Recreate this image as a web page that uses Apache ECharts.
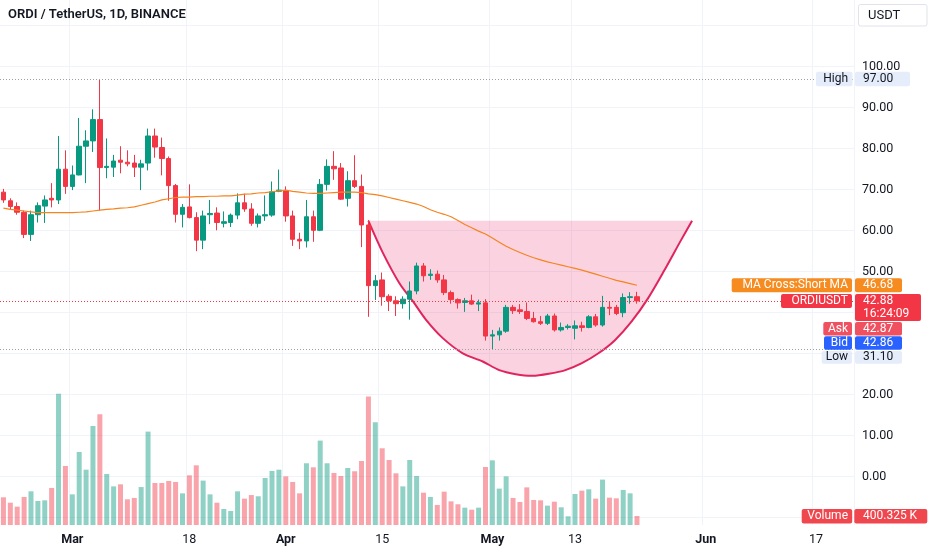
<!DOCTYPE html>
<html>
<head>
<meta charset="utf-8">
<script src="https://cdn.jsdelivr.net/npm/echarts@6/dist/echarts.min.js"></script>
<style>
  html, body { margin: 0; padding: 0; background: #fff; }
  #main { width: 932px; height: 550px; }
</style>
</head>
<body>
<div id="main"></div>
<script>
// ORDI / USDT daily, 2024-02-20 .. 2024-05-22
const startDate = '2024-02-20';
const dayCount = 124;

const tickLabels = {
  '2024-03-01': 'Mar', '2024-03-18': '18', '2024-04-01': 'Apr', '2024-04-15': '15',
  '2024-05-01': 'May', '2024-05-13': '13', '2024-06-01': 'Jun', '2024-06-17': '17'
};
const monthTicks = ['Mar', 'Apr', 'May', 'Jun'];

const opens = [
  69.4, 67.3, 65.9, 64.5, 59.1, 63.9, 66.0, 67.9, 67.5, 75.0,
  70.8, 73.6, 80.6, 81.9, 87.1, 75.4, 75.5, 77.2, 76.7, 76.5,
  75.5, 76.5, 83.1, 80.3, 77.6, 71.0, 64.0, 65.8, 63.2, 57.7,
  63.9, 64.3, 61.8, 62.0, 63.8, 66.8, 65.3, 61.8, 63.6, 63.8,
  69.6, 69.8, 63.6, 57.9, 57.5, 63.4, 60.1, 71.3, 75.7, 75.3,
  67.9, 72.2, 70.8, 61.4, 46.6, 48.0, 44.0, 42.9, 42.2, 43.3,
  45.3, 51.4, 49.1, 49.4, 48.0, 44.9, 43.2, 42.5, 42.9, 42.1,
  42.4, 34.3, 34.6, 35.5, 41.3, 40.7, 40.3, 38.6, 37.8, 37.4,
  39.2, 35.8, 36.4, 36.2, 36.8, 36.4, 39.0, 37.0, 41.3, 41.3,
  40.0, 43.7, 43.9
];
const closes = [
  67.5, 65.9, 64.5, 59.1, 63.9, 66.1, 67.5, 67.5, 75.0, 70.8,
  73.6, 80.6, 81.9, 87.1, 75.4, 75.7, 77.0, 76.7, 76.3, 75.5,
  76.3, 83.1, 80.4, 77.6, 71.0, 64.0, 65.7, 63.2, 57.7, 63.6,
  64.2, 62.0, 62.2, 63.8, 66.8, 65.3, 61.8, 63.6, 63.9, 69.5,
  69.9, 63.6, 57.9, 57.5, 63.4, 60.1, 71.3, 75.7, 75.1, 67.7,
  72.2, 70.8, 61.4, 46.6, 47.8, 43.9, 42.9, 42.2, 43.3, 45.3,
  51.4, 49.0, 49.4, 48.0, 44.9, 43.2, 42.4, 42.9, 42.1, 42.4,
  34.3, 34.6, 35.5, 41.3, 40.5, 40.3, 38.6, 37.8, 37.4, 39.2,
  35.8, 36.4, 36.7, 36.8, 36.4, 39.0, 37.0, 41.3, 41.1, 39.8,
  43.7, 43.9, 42.88
];
const lows = [
  66.8, 65.1, 63.9, 58.2, 57.5, 62.0, 61.9, 65.7, 66.5, 69.0,
  69.9, 73.5, 71.6, 79.2, 64.9, 72.8, 73.1, 74.0, 75.7, 73.1,
  69.9, 74.7, 77.8, 73.5, 67.3, 62.0, 60.8, 63.0, 55.0, 55.5,
  61.6, 60.1, 60.8, 60.9, 62.8, 64.6, 61.2, 60.8, 62.4, 63.4,
  69.4, 62.2, 56.3, 55.5, 55.9, 57.3, 59.9, 69.8, 72.4, 67.5,
  65.9, 70.4, 56.0, 39.0, 43.1, 41.7, 40.4, 39.2, 41.0, 38.3,
  44.5, 47.6, 48.0, 47.3, 44.3, 42.2, 41.0, 40.2, 41.9, 40.4,
  33.2, 31.1, 33.2, 35.1, 39.7, 39.7, 38.2, 37.6, 37.0, 37.0,
  35.4, 35.4, 35.9, 33.5, 35.4, 36.2, 36.6, 36.6, 39.4, 39.4,
  38.9, 42.2, 42.2
];
const highs = [
  70.2, 67.9, 66.9, 64.9, 64.9, 66.9, 68.6, 71.6, 83.1, 79.6,
  75.9, 87.5, 84.5, 89.6, 97.0, 82.5, 78.5, 80.6, 79.6, 78.5,
  77.3, 84.9, 84.9, 82.7, 78.1, 71.4, 66.5, 71.3, 64.5, 64.9,
  67.5, 65.7, 64.7, 64.2, 69.1, 69.0, 66.7, 64.2, 68.6, 72.0,
  74.9, 70.8, 64.9, 59.5, 67.5, 64.9, 72.6, 77.4, 79.4, 76.5,
  74.5, 78.4, 73.7, 62.6, 49.2, 49.8, 44.5, 44.0, 44.0, 47.6,
  52.2, 52.1, 50.6, 50.3, 49.2, 45.4, 43.5, 43.6, 44.4, 43.2,
  43.3, 35.8, 36.4, 41.9, 41.9, 42.1, 42.5, 40.2, 39.2, 39.7,
  39.8, 37.6, 37.2, 38.1, 37.8, 39.4, 39.7, 44.1, 42.7, 41.9,
  44.7, 45.0, 45.1
];
// volume, thousands
const volumes = [
  1230, 990, 815, 1245, 1495, 1065, 1095, 1645, 5820, 2620,
  1360, 3240, 2455, 4395, 4915, 2265, 1715, 1805, 1140, 1200,
  1685, 4145, 1865, 1865, 1955, 1910, 1405, 2205, 2650, 1970,
  1360, 990, 710, 620, 1495, 1170, 1330, 1275, 2085, 2400,
  2455, 2160, 1910, 1405, 2740, 2560, 3745, 2740, 2310, 2175,
  2530, 2385, 2840, 5700, 4560, 3405, 2885, 2295, 1715, 2885,
  2175, 1435, 1245, 890, 1480, 1050, 920, 770, 680, 770,
  2575, 2870, 1615, 2160, 1200, 1020, 1670, 1110, 1095, 860,
  1035, 785, 385, 1375, 1525, 1585, 1170, 2015, 1215, 1185,
  1555, 1405, 400
];
// MA Cross: Short MA
const shortMA = [
  65.5, 65.2, 65.0, 64.8, 64.6, 64.4, 64.4, 64.4, 64.4, 64.4,
  64.4, 64.5, 64.6, 64.8, 65.0, 65.2, 65.3, 65.5, 65.6, 65.8,
  66.2, 66.6, 67.0, 67.5, 67.8, 68.1, 68.2, 68.2, 68.3, 68.3,
  68.4, 68.4, 68.5, 68.5, 68.7, 68.9, 69.0, 69.2, 69.3, 69.5,
  69.7, 69.9, 69.6, 69.4, 69.2, 69.1, 69.1, 69.2, 69.3, 69.4,
  69.4, 69.4, 69.3, 69.0, 68.8, 68.5, 68.1, 67.7, 67.3, 66.9,
  66.5, 65.9, 65.1, 64.5, 64.0, 63.4, 62.5, 61.5, 60.7, 59.9,
  59.2, 58.2, 57.2, 56.2, 55.4, 54.7, 54.0, 53.4, 52.9, 52.4,
  52.0, 51.6, 51.2, 50.8, 50.4, 49.9, 49.4, 48.9, 48.4, 47.9,
  47.5, 47.1, 46.7
];
// cup drawing: bar position / price
const cupX = [53.0, 55.1, 57.5, 59.5, 61.4, 63.8, 66.7, 69.6, 72.0, 74.4, 76.8,
              79.2, 81.6, 84.0, 86.4, 88.8, 91.2, 93.6, 96.0, 98.4, 100.0];
const cupY = [62.4, 54.6, 47.2, 42.7, 38.2, 33.8, 30.1, 28.1, 26.0, 25.0, 24.6,
              25.1, 26.0, 27.7, 30.1, 33.3, 37.8, 43.5, 50.4, 57.7, 62.4];

const priceHigh = 97.00, priceLow = 31.10, lastPrice = 42.88;
const maLast = 46.68, askPrice = 42.87, bidPrice = 42.86;

const UP = '#089981', DOWN = '#f23645';
const FONT = 'Roboto, "Noto Sans", sans-serif';

const dates = [];
{
  const t0 = Date.parse(startDate + 'T00:00:00Z');
  for (let i = 0; i < dayCount; i++) {
    dates.push(new Date(t0 + i * 86400000).toISOString().slice(0, 10));
  }
}

const candles = opens.map((o, i) => [o, closes[i], lows[i], highs[i]]);
const volBars = volumes.map((v, i) => ({
  value: v,
  itemStyle: { color: closes[i] >= opens[i] ? 'rgba(8,153,129,0.45)' : 'rgba(242,54,69,0.45)' }
}));
const isTick = (idx, val) => tickLabels[val] !== undefined;

const chart = echarts.init(document.getElementById('main'));

const option = {
  animation: false,
  backgroundColor: '#ffffff',
  title: {
    text: 'ORDI / TetherUS, 1D, BINANCE',
    left: 8, top: 8, padding: 0,
    textStyle: { fontSize: 13, fontWeight: 600, color: '#131722', fontFamily: FONT }
  },
  grid: [
    { left: -5.47, right: 78.1, top: 25.7, bottom: 32.3 },
    { left: -5.47, right: 78.1, top: 0, bottom: 25 }
  ],
  xAxis: [
    { type: 'category', gridIndex: 0, data: dates, show: false, boundaryGap: true },
    {
      type: 'category', gridIndex: 1, data: dates, boundaryGap: true,
      axisLine: { show: false }, axisTick: { show: false },
      axisLabel: {
        interval: isTick, margin: 8, color: '#131722', fontSize: 12.5, fontFamily: FONT,
        formatter: v => {
          const s = tickLabels[v] || '';
          return monthTicks.indexOf(s) >= 0 ? '{b|' + s + '}' : s;
        },
        rich: { b: { fontWeight: 'bold', fontSize: 12.5, fontFamily: FONT, color: '#131722' } }
      },
      splitLine: { show: true, interval: isTick, lineStyle: { color: '#f0f3fa', width: 1 } }
    },
    { type: 'value', gridIndex: 0, min: -0.5, max: dayCount - 0.5, show: false }
  ],
  yAxis: [
    {
      type: 'value', gridIndex: 0, position: 'right', min: -10, max: 110, interval: 10,
      axisLine: { show: false }, axisTick: { show: false },
      axisLabel: {
        margin: 8, color: '#131722', fontSize: 12.5, fontFamily: FONT,
        formatter: v => (v < 0 || v > 100 || v === 40 || v === 30) ? '' : v.toFixed(2)
      },
      splitLine: { lineStyle: { color: '#f0f3fa', width: 1 } }
    },
    { type: 'value', gridIndex: 1, min: 0, max: 23300, show: false, splitLine: { show: false } }
  ],
  series: [
    {
      name: 'Volume', type: 'bar', xAxisIndex: 1, yAxisIndex: 1,
      data: volBars, barWidth: 5, z: 1
    },
    {
      name: 'Cup', type: 'custom', xAxisIndex: 2, yAxisIndex: 0, z: 2, silent: true,
      data: [0],
      renderItem: (params, api) => {
        const pts = cupX.map((x, i) => api.coord([x, cupY[i]]));
        return {
          type: 'group',
          children: [
            { type: 'polygon', shape: { points: pts }, style: { fill: 'rgba(233,30,99,0.2)' } },
            { type: 'polyline', shape: { points: pts.slice(), smooth: 0.3 },
              style: { stroke: '#e0245e', lineWidth: 2, fill: null } }
          ]
        };
      }
    },
    {
      name: 'ORDIUSDT', type: 'candlestick', xAxisIndex: 0, yAxisIndex: 0,
      data: candles, barWidth: 5, z: 3,
      itemStyle: { color: UP, color0: DOWN, borderColor: UP, borderColor0: DOWN, borderWidth: 1 },
      markLine: {
        silent: true, symbol: ['none', 'none'], label: { show: false },
        lineStyle: { color: '#f23645', type: [1, 2], width: 1 },
        data: [{ yAxis: lastPrice }]
      }
    },
    {
      name: 'Short MA', type: 'line', xAxisIndex: 0, yAxisIndex: 0,
      data: shortMA, symbol: 'none', z: 4,
      lineStyle: { color: '#f5841f', width: 1.2 },
      markLine: {
        silent: true, symbol: ['none', 'none'], label: { show: false },
        lineStyle: { color: '#9da0a8', type: [1, 2], width: 1 },
        data: [{ yAxis: priceHigh }, { yAxis: priceLow }]
      }
    }
  ]
};

chart.setOption(option);

// price scale tags
const py = v => chart.convertToPixel({ yAxisIndex: 0 }, v);
const tags = [];
function box(x, top, w, h, bg, stroke) {
  tags.push({ type: 'rect', z: 100, shape: { x: x, y: top, width: w, height: h, r: 2 },
    style: { fill: bg, stroke: stroke || null, lineWidth: 1 } });
}
function txt(x, y, s, color, align, size) {
  tags.push({ type: 'text', z: 101, x: x, y: y,
    style: { text: s, fill: color, font: (size || 12) + 'px ' + FONT,
      textAlign: align || 'left', textVerticalAlign: 'middle' } });
}
function pair(labelX, top, h, bg, label, value, color) {
  box(labelX, top, 852 - labelX, h, bg);
  txt(848, top + h / 2, label, color, 'right');
  box(855, top, 47, h, bg);
  txt(863, top + h / 2, value, color);
}

const yH = py(priceHigh);
box(816, yH - 7.2, 36.5, 14.5, '#e4edf9');
txt(848, yH, 'High', '#131722', 'right');
box(855, yH - 7.2, 55, 14.5, '#e4edf9');
txt(863, yH, priceHigh.toFixed(2), '#131722');

const yM = py(maLast);
pair(731.7, yM - 7, 14, '#f68b1f', 'MA Cross:Short MA', maLast.toFixed(2), '#ffffff');

const yL = py(lastPrice);
const lastTop = yL - 7;
box(781, lastTop, 71, 14, DOWN);
txt(848, yL, 'ORDIUSDT', '#ffffff', 'right');
box(855, lastTop, 66, 27, DOWN);
txt(863, yL, lastPrice.toFixed(2), '#ffffff');
txt(863, yL + 13, '16:24:09', '#ffffff');

const askTop = lastTop + 28;
pair(823.3, askTop, 13.5, '#ef5160', 'Ask', askPrice.toFixed(2), '#ffffff');
const bidTop = askTop + 14.3;
pair(824, bidTop, 13.5, '#2962ff', 'Bid', bidPrice.toFixed(2), '#ffffff');
const lowTop = bidTop + 14.7;
pair(821.7, lowTop, 12.8, '#e4edf9', 'Low', priceLow.toFixed(2), '#131722');

// volume tag
box(801.7, 509, 50.5, 14.5, '#f0474f');
txt(848, 516.2, 'Volume', '#ffffff', 'right');
box(854.3, 509, 73, 14.5, '#f0474f');
txt(863, 516.2, '400.325 K', '#ffffff');

// currency button
box(858.5, 4.5, 68.5, 21.5, '#ffffff', '#e0e3eb');
txt(868, 15.5, 'USDT', '#131722', 'left', 13);

chart.setOption({ graphic: tags });
</script>
</body>
</html>
